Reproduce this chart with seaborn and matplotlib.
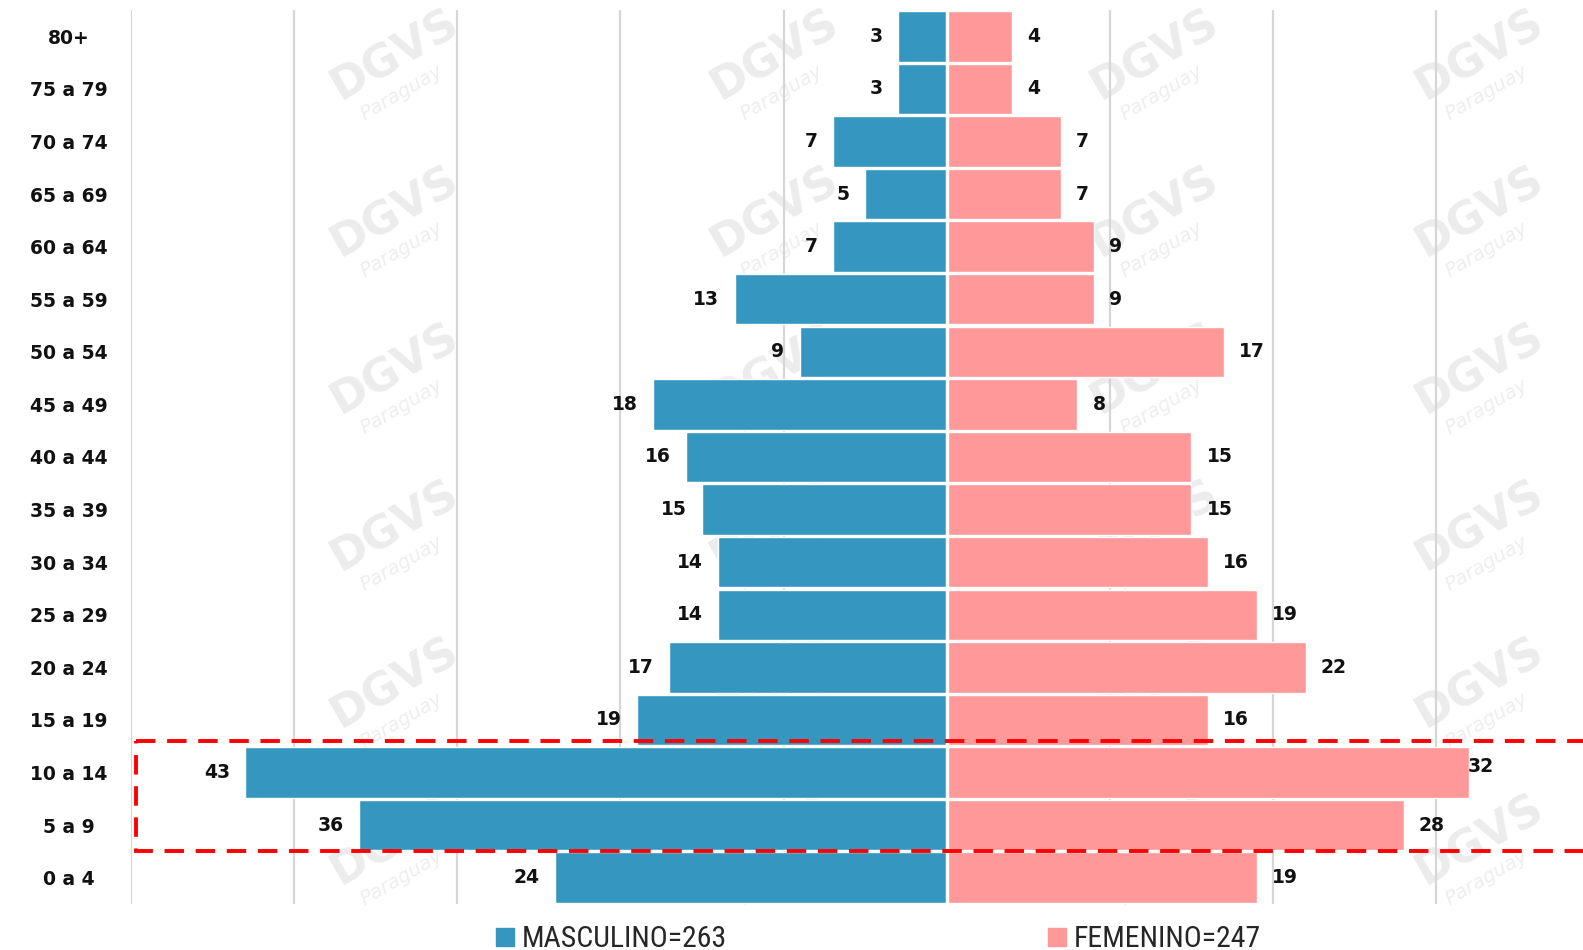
import matplotlib
matplotlib.use("Agg")
import matplotlib.pyplot as plt
import seaborn as sns
import pandas as pd
import numpy as np
from matplotlib.patches import Rectangle
from matplotlib.lines import Line2D
from matplotlib import font_manager

categories = ["80+", "75 a 79", "70 a 74", "65 a 69", "60 a 64", "55 a 59", "50 a 54",
              "45 a 49", "40 a 44", "35 a 39", "30 a 34", "25 a 29", "20 a 24",
              "15 a 19", "10 a 14", "5 a 9", "0 a 4"]
masculino = [3, 3, 7, 5, 7, 13, 9, 18, 16, 15, 14, 14, 17, 19, 43, 36, 24]
femenino = [4, 4, 7, 7, 9, 9, 17, 8, 15, 15, 16, 19, 22, 16, 32, 28, 19]
legend_labels = ["MASCULINO=263", "FEMENINO=247"]
highlight = ["10 a 14", "5 a 9"]

MALE_C = "#3597bf"
FEMALE_C = "#ff9999"

sns.set_theme(style="white")
avail = {f.name for f in font_manager.fontManager.ttflist}
narrow = next((n for n in ["Liberation Sans Narrow", "Roboto Condensed", "Open Sans Condensed"] if n in avail), "Liberation Sans")
plt.rcParams["font.family"] = ["DejaVu Sans"]

fig = plt.figure(figsize=(15.83, 9.5), dpi=100)
fig.patch.set_facecolor("white")

# watermark
for r in range(6):
    for c, cx in enumerate([395, 775, 1155, 1480]):
        x = cx / 1583
        y = 1 - (55 + 157 * r) / 950
        fig.text(x, y, "DGVS", fontsize=32, fontweight="bold", color="#ececec",
                 rotation=30, ha="center", va="center", zorder=-5, family="DejaVu Sans")
        fig.text(x + 0.004, y - 0.04, "Paraguay", fontsize=14, style="italic", color="#eeeeee",
                 rotation=30, ha="center", va="center", zorder=-5, family="DejaVu Sans")

ax = fig.add_axes([131 / 1583, 1 - 904 / 950, 1 - 131 / 1583, 894 / 950])
ax.set_facecolor("none")

df = pd.DataFrame({"grupo": categories, "m": [-v for v in masculino], "f": femenino})
sns.barplot(data=df, y="grupo", x="m", order=categories, color=MALE_C, saturation=1,
            width=0.96, ax=ax, orient="h")
sns.barplot(data=df, y="grupo", x="f", order=categories, color=FEMALE_C, saturation=1,
            width=0.96, ax=ax, orient="h")
ax.axvline(0, color="white", lw=2.5, zorder=5)

ax.set_xlim(-50, 39)
ax.set_ylim(len(categories) - 0.5, -0.5)
ax.set_xticks(np.arange(-50, 40, 10))
ax.xaxis.grid(True, color="#d6d6d6", lw=1.6)
ax.set_axisbelow(True)
ax.tick_params(axis="x", bottom=False, labelbottom=False)
ax.set_xlabel("")
ax.set_ylabel("")
for s in ax.spines.values():
    s.set_visible(False)

ax.set_yticks(range(len(categories)))
ax.set_yticklabels(categories, fontsize=13.5, fontweight="bold", color="#111111")
for t in ax.get_yticklabels():
    t.set_ha("center")
ax.tick_params(axis="y", length=0, pad=45)

fmax = max(femenino)
for i, (m, f) in enumerate(zip(masculino, femenino)):
    ax.annotate(str(m), (-m, i), xytext=(-11, 0), textcoords="offset points",
                ha="right", va="center", fontsize=13.5, fontweight="bold", color="#111111")
    off = -1 if f == fmax else 11
    ax.annotate(str(f), (f, i), xytext=(off, 4 if f == fmax else 0), textcoords="offset points",
                ha="left", va="center", fontsize=13.5, fontweight="bold", color="#111111", zorder=6)

i0 = categories.index(highlight[0])
i1 = categories.index(highlight[-1])
rect = Rectangle((-49.7, i0 - 0.6), 100, (i1 - i0) + 1.1, fill=False, edgecolor="#ff0000",
                 lw=2.8, linestyle=(0, (5, 3)), zorder=7, clip_on=True)
ax.add_patch(rect)

handles = [Line2D([], [], marker="s", color=MALE_C, ls="none", markersize=12.5),
           Line2D([], [], marker="s", color=FEMALE_C, ls="none", markersize=12.5)]
for h, lab, xpos in zip(handles, legend_labels, [493 / 1583, 1045 / 1583]):
    fig.legend([h], [lab], loc="center left", bbox_to_anchor=(xpos, 1 - 939 / 950),
               frameon=False, handletextpad=0.15, handlelength=0.8, borderaxespad=0, borderpad=0,
               prop={"family": narrow, "size": 21.5})

fig.savefig("out.png", dpi=100, facecolor="white")
